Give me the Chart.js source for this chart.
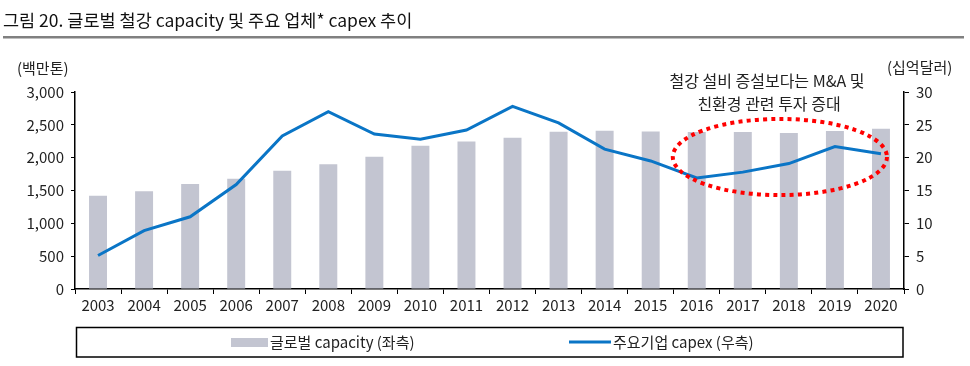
<!DOCTYPE html>
<html>
<head>
<meta charset="utf-8">
<script src="https://cdn.jsdelivr.net/npm/chart.js@4"></script>
<style>
  body { margin: 0; background: #fff; }
  canvas { display: block; }
</style>
</head>
<body>
<canvas id="steelChart" width="970" height="366"></canvas>
<script>
const years = ['2003', '2004', '2005', '2006', '2007', '2008', '2009', '2010', '2011',
  '2012', '2013', '2014', '2015', '2016', '2017', '2018', '2019', '2020'];
// 글로벌 capacity (백만톤, 좌측)
const capacity = [1420, 1490, 1600, 1680, 1800, 1900, 2015, 2180, 2245,
  2305, 2395, 2410, 2400, 2390, 2390, 2375, 2405, 2440];
// 주요기업 capex (십억달러, 우측)
const capex = [5.1, 8.9, 11.0, 15.9, 23.3, 27.0, 23.6, 22.8, 24.2,
  27.8, 25.3, 21.3, 19.5, 16.9, 17.8, 19.1, 21.7, 20.6];
const leftTicks = [0, 500, 1000, 1500, 2000, 2500, 3000];
const rightTicks = [0, 5, 10, 15, 20, 25, 30];

const FONT = '"Noto Sans CJK KR", "Noto Sans", sans-serif';
const BAR_COLOR = '#c3c5d1';
const LINE_COLOR = '#0a75c6';
const TEXT_COLOR = '#222';

// title, units, annotation, legend box
const decorations = {
  id: 'decorations',
  afterDraw(chart) {
    const ctx = chart.ctx;
    const x = chart.scales.x;
    const yl = chart.scales.yLeft;
    ctx.save();

    ctx.fillStyle = '#111';
    ctx.font = '17.5px ' + FONT;
    ctx.textBaseline = 'middle';
    ctx.textAlign = 'left';
    ctx.fillText('그림 20. 글로벌 철강 capacity 및 주요 업체* capex 추이', 3, 20);
    ctx.fillStyle = '#808080';
    ctx.fillRect(3, 36, 961, 2.5);

    ctx.fillStyle = TEXT_COLOR;
    ctx.font = '15px ' + FONT;
    ctx.fillText('(백만톤)', 17, 68);
    ctx.fillText('(십억달러)', 887, 67);

    ctx.textAlign = 'center';
    ctx.font = '16px ' + FONT;
    ctx.fillText('철강 설비 증설보다는 M&A 및', 767, 81);
    ctx.fillText('친환경 관련 투자 증대', 769, 104);

    // red dotted ellipse
    const left = x.getPixelForValue(12.48);
    const right = x.getPixelForValue(17.13);
    const top = yl.getPixelForValue(2590);
    const bottom = yl.getPixelForValue(1430);
    ctx.beginPath();
    ctx.ellipse((left + right) / 2, (top + bottom) / 2, (right - left) / 2, (bottom - top) / 2, 0, 0, Math.PI * 2);
    ctx.strokeStyle = '#ff0000';
    ctx.lineWidth = 4;
    ctx.setLineDash([4, 4.2]);
    ctx.stroke();
    ctx.setLineDash([]);

    // legend box
    ctx.font = '15px ' + FONT;
    ctx.strokeStyle = '#000';
    ctx.lineWidth = 1.5;
    ctx.strokeRect(76.5, 327.5, 826.5, 29.5);
    ctx.fillStyle = BAR_COLOR;
    ctx.fillRect(231, 338, 37, 9);
    ctx.strokeStyle = LINE_COLOR;
    ctx.lineWidth = 3;
    ctx.beginPath();
    ctx.moveTo(569, 342);
    ctx.lineTo(611, 342);
    ctx.stroke();
    ctx.fillStyle = TEXT_COLOR;
    ctx.textAlign = 'left';
    ctx.fillText('글로벌 capacity (좌측)', 270, 342);
    ctx.fillText('주요기업 capex (우측)', 613, 342);

    ctx.restore();
  }
};

const context = document.getElementById('steelChart').getContext('2d');

new Chart(context, {
  type: 'bar',
  data: {
    labels: years,
    datasets: [
      {
        type: 'line',
        label: '주요기업 capex (우측)',
        data: capex,
        yAxisID: 'yRight',
        borderColor: LINE_COLOR,
        backgroundColor: LINE_COLOR,
        borderWidth: 3,
        pointRadius: 0,
        tension: 0,
        fill: false,
        order: 0
      },
      {
        label: '글로벌 capacity (좌측)',
        data: capacity,
        yAxisID: 'yLeft',
        backgroundColor: BAR_COLOR,
        barPercentage: 0.39,
        categoryPercentage: 1,
        order: 1
      }
    ]
  },
  options: {
    responsive: false,
    animation: false,
    devicePixelRatio: 1,
    layout: { padding: { left: 0, right: 0, top: 92, bottom: 0 } },
    scales: {
      x: {
        afterFit: (scale) => { scale.height = 77; },
        grid: {
          offset: true,
          drawOnChartArea: false,
          drawTicks: true,
          tickLength: 5,
          color: '#000'
        },
        border: { color: '#000', width: 1.5 },
        ticks: {
          color: TEXT_COLOR,
          font: { family: FONT, size: 15 },
          padding: 2,
          maxRotation: 0,
          autoSkip: false
        }
      },
      yLeft: {
        position: 'left',
        min: 0,
        max: 3000,
        afterFit: (scale) => { scale.width = 75; },
        afterBuildTicks: (scale) => { scale.ticks = leftTicks.map((v) => ({ value: v })); },
        grid: { drawOnChartArea: false, tickLength: 4, color: '#000' },
        border: { color: '#000', width: 1.5 },
        ticks: {
          color: TEXT_COLOR,
          font: { family: FONT, size: 15 },
          padding: 7,
          callback: (value) => new Intl.NumberFormat('en-US').format(value)
        }
      },
      yRight: {
        position: 'right',
        min: 0,
        max: 30,
        afterFit: (scale) => { scale.width = 66; },
        afterBuildTicks: (scale) => { scale.ticks = rightTicks.map((v) => ({ value: v })); },
        grid: { drawOnChartArea: false, tickLength: 5, color: '#000' },
        border: { color: '#000', width: 1.5 },
        ticks: {
          color: TEXT_COLOR,
          font: { family: FONT, size: 15 },
          padding: 7
        }
      }
    },
    plugins: {
      legend: { display: false },
      title: { display: false },
      tooltip: { enabled: false }
    }
  },
  plugins: [decorations]
});
</script>
</body>
</html>
